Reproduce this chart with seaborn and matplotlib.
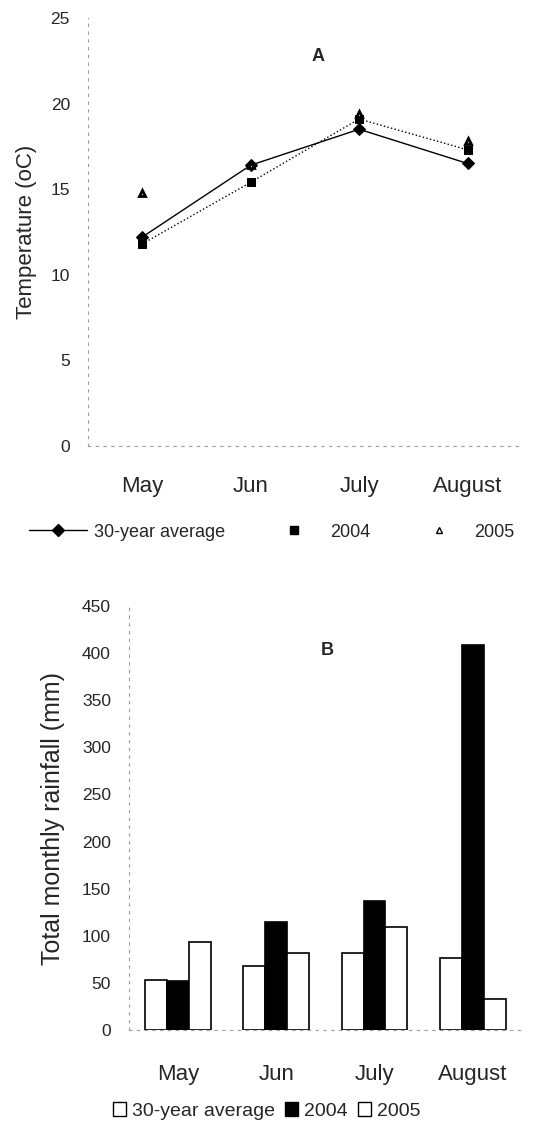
import matplotlib
matplotlib.use("Agg")
import matplotlib.pyplot as plt
from matplotlib.lines import Line2D
from matplotlib.patches import Patch
import pandas as pd
import seaborn as sns

# Monthly values
months = ["May", "Jun", "July", "August"]
temp_avg30 = [12.2, 16.4, 18.5, 16.5]
temp_2004 = [11.8, 15.4, 19.1, 17.3]
temp_2005 = [14.8, 16.4, 19.4, 17.8]

rain_avg30 = [53, 68, 82, 77]
rain_2004 = [52, 115, 137, 408]
rain_2005 = [94, 82, 110, 33]

series_names = ["30-year average", "2004", "2005"]

sns.set_style("white")
plt.rcParams["font.family"] = ["Liberation Sans", "DejaVu Sans"]

fig = plt.figure(figsize=(5.33, 11.26), dpi=100)
ax_t = fig.add_axes([0.165, 0.604, 0.814, 0.380])
ax_b = fig.add_axes([0.242, 0.085, 0.737, 0.377])


def style_axes(ax, xpad):
    for side in ("top", "right"):
        ax.spines[side].set_visible(False)
    for side in ("left", "bottom"):
        ax.spines[side].set_color("#9a9a9a")
        ax.spines[side].set_linewidth(0.8)
        ax.spines[side].set_linestyle((0, (2, 5)))
    ax.tick_params(axis="y", length=2, width=0.8, color="#777777", pad=11, labelsize=12.5)
    ax.tick_params(axis="x", length=0, pad=xpad, labelsize=16)


# --- Panel A: temperature ---------------------------------------------------
temp = pd.DataFrame({"month": months, "avg": temp_avg30, "y2004": temp_2004, "y2005": temp_2005})
sns.pointplot(data=temp, x="month", y="avg", color="black", marker="D", markersize=6,
              linestyle="-", linewidth=1.0, errorbar=None, ax=ax_t)
sns.pointplot(data=temp, x="month", y="y2004", color="black", marker="s", markersize=6,
              linestyle=":", linewidth=1.0, errorbar=None, ax=ax_t)
sns.pointplot(data=temp, x="month", y="y2005", color="black", marker="^", markersize=5,
              markerfacecolor="white", linestyle="none", errorbar=None, ax=ax_t)
ax_t.set_xlim(-0.5, 3.5)
ax_t.set_ylim(0, 25)
ax_t.set_yticks([0, 5, 10, 15, 20, 25])
ax_t.set_xlabel("")
ax_t.set_ylabel("Temperature (oC)", fontsize=16, labelpad=10)
style_axes(ax_t, xpad=22)
ax_t.text(0.53, 0.91, "A", transform=ax_t.transAxes, ha="center", va="center",
          fontsize=13, fontweight="bold")

top_handles = [
    Line2D([], [], color="black", marker="D", markersize=6, linewidth=1.0),
    Line2D([], [], color="black", marker="s", markersize=6, linestyle="none"),
    Line2D([], [], color="black", marker="^", markersize=4, markerfacecolor="white",
           linestyle="none"),
]
fig.legend(top_handles, series_names, loc="center", bbox_to_anchor=(0.51, 0.5275),
           ncol=3, frameon=False, fontsize=13, handlelength=3.2, handletextpad=0.4,
           columnspacing=2.2, numpoints=1)

# --- Panel B: rainfall ------------------------------------------------------
rain = pd.DataFrame({
    "month": months * 3,
    "series": [s for s in series_names for _ in months],
    "rain": rain_avg30 + rain_2004 + rain_2005,
})
sns.barplot(data=rain, x="month", y="rain", hue="series", hue_order=series_names,
            palette=["white", "black", "white"], edgecolor="black", linewidth=1.2,
            width=0.67, errorbar=None, legend=False, ax=ax_b)
ax_b.set_xlim(-0.5, 3.5)
ax_b.set_ylim(0, 450)
ax_b.set_yticks(range(0, 451, 50))
ax_b.set_xlabel("")
ax_b.set_ylabel("Total monthly rainfall (mm)", fontsize=18, labelpad=12)
style_axes(ax_b, xpad=24)
ax_b.text(0.505, 0.894, "B", transform=ax_b.transAxes, ha="center", va="center",
          fontsize=13, fontweight="bold")

bottom_handles = [
    Patch(facecolor="white", edgecolor="black", linewidth=1.0),
    Patch(facecolor="black", edgecolor="black", linewidth=1.0),
    Patch(facecolor="white", edgecolor="black", linewidth=1.0),
]
fig.legend(bottom_handles, series_names, loc="center", bbox_to_anchor=(0.5, 0.0135),
           ncol=3, frameon=False, fontsize=14, handlelength=0.7, handleheight=0.7,
           handletextpad=0.3, columnspacing=0.5)

fig.savefig("out.png", dpi=100)
